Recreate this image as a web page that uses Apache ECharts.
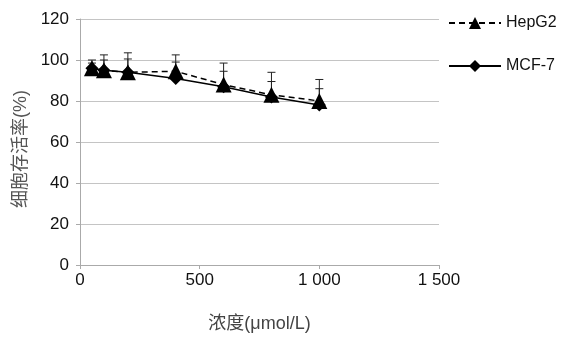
<!DOCTYPE html>
<html>
<head>
<meta charset="utf-8">
<script src="https://cdn.jsdelivr.net/npm/echarts@6/dist/echarts.min.js"></script>
<style>
  html, body { margin: 0; padding: 0; background: #fff; }
  #chart { width: 566px; height: 338px; }
</style>
</head>
<body>
<div id="chart"></div>
<script>
const concentrations = [50, 100, 200, 400, 600, 800, 1000]
const hepg2 = [96, 95, 94, 94.5, 88, 83, 80]
const mcf7 = [96, 95, 94, 91, 87, 82, 78]
const hepg2Upper = [100, 102.5, 103.5, 102.5, 98.5, 94, 90.5]
const mcf7Upper = [98.5, 100, 100.5, 99, 94.5, 89.5, 86]
const xTicks = [0, 500, 1000, 1500]

const font = '"Liberation Sans", Arial, "Noto Sans CJK SC", sans-serif'

function errorSeries(name, values, upper) {
  return {
    type: 'custom',
    name: name + '-err',
    silent: true,
    z: 1,
    data: concentrations.map((c, i) => [c, values[i], upper[i]]),
    renderItem: (params, api) => {
      const base = api.coord([api.value(0), api.value(1)])
      const top = api.coord([api.value(0), api.value(2)])
      const w = 4
      return {
        type: 'group',
        children: [
          { type: 'line', shape: { x1: base[0], y1: base[1], x2: top[0], y2: top[1] }, style: { stroke: '#222', lineWidth: 1 } },
          { type: 'line', shape: { x1: top[0] - w, y1: top[1], x2: top[0] + w, y2: top[1] }, style: { stroke: '#222', lineWidth: 1 } }
        ]
      }
    }
  }
}

const chart = echarts.init(document.getElementById('chart'))
chart.setOption({
  animation: false,
  backgroundColor: '#fff',
  textStyle: { fontFamily: font },
  grid: { left: 80, right: 127, top: 19, bottom: 70 },
  legend: {
    orient: 'vertical',
    left: 443,
    top: 10,
    itemWidth: 52,
    itemHeight: 15,
    itemGap: 27,
    textStyle: { color: '#111', fontSize: 16, fontFamily: font },
    data: ['HepG2', 'MCF-7']
  },
  xAxis: {
    type: 'value',
    min: 0,
    max: 1500,
    interval: 500,
    name: '浓度(μmol/L)',
    nameLocation: 'middle',
    nameGap: 50,
    nameTextStyle: { color: '#444', fontSize: 18, fontFamily: font },
    axisLine: { lineStyle: { color: '#aaa' } },
    axisTick: { show: true, length: 4, lineStyle: { color: '#aaa' } },
    axisLabel: {
      color: '#111',
      fontSize: 17,
      margin: 7,
      formatter: v => xTicks.includes(v) ? String(v).replace(/\B(?=(\d{3})+(?!\d))/g, ' ') : ''
    },
    splitLine: { show: false }
  },
  yAxis: {
    type: 'value',
    min: 0,
    max: 120,
    interval: 20,
    name: '细胞存活率(%)',
    nameLocation: 'middle',
    nameGap: 49,
    nameTextStyle: { color: '#555', fontSize: 18, fontFamily: font, padding: [0, 14, 0, 0] },
    axisLine: { show: true, lineStyle: { color: '#aaa' } },
    axisTick: { show: true, length: 4, inside: false, lineStyle: { color: '#aaa' } },
    axisLabel: { color: '#111', fontSize: 17, margin: 11 },
    splitLine: { lineStyle: { color: '#c4c4c4' } }
  },
  series: [
    errorSeries('MCF-7', mcf7, mcf7Upper),
    errorSeries('HepG2', hepg2, hepg2Upper),
    {
      name: 'MCF-7',
      type: 'line',
      z: 2,
      data: concentrations.map((c, i) => [c, mcf7[i]]),
      symbol: 'diamond',
      symbolSize: 13,
      lineStyle: { color: '#000', width: 1.5 },
      itemStyle: { color: '#000' }
    },
    {
      name: 'HepG2',
      type: 'line',
      z: 3,
      data: concentrations.map((c, i) => [c, hepg2[i]]),
      symbol: 'triangle',
      symbolSize: 16,
      lineStyle: { color: '#000', width: 1.5, type: [6, 4] },
      itemStyle: { color: '#000' }
    }
  ]
})
</script>
</body>
</html>
